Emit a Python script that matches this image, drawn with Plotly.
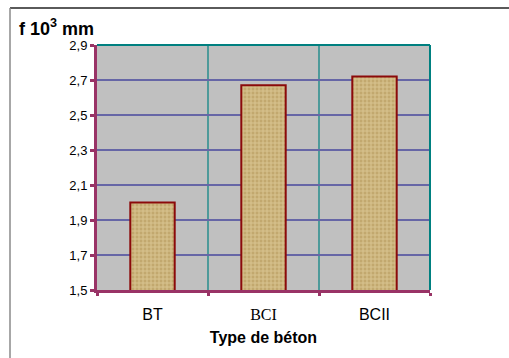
import plotly.graph_objects as go

categories = ["BT", "BCI", "BCII"]
values = [2.0, 2.67, 2.72]
tick_labels = ["BT", "<span style=\"font-family:'Liberation Serif',serif\">BCI</span>", "BCII"]
y_ticks = [1.5, 1.7, 1.9, 2.1, 2.3, 2.5, 2.7, 2.9]
boundaries = [0.5, 1.5]

W, H = 509, 358
L, R, T, B = 97, 430, 45, 290

xpos = list(range(len(categories)))

fig = go.Figure()
fig.add_trace(go.Bar(
    x=xpos, y=values, width=0.4,
    marker=dict(
        color="#c2a86e",
        line=dict(color="#8b0a0a", width=2),
        pattern=dict(shape="+", fgcolor="#efe0b2", size=4, solidity=0.45),
    ),
))

def px_x(p):
    return (p - L) / (R - L)

def px_y(p):
    return (B - p) / (B - T)

shapes = [
    dict(type="line", xref="paper", yref="paper", x0=px_x(10), x1=px_x(W + 5),
         y0=px_y(8), y1=px_y(8), line=dict(color="#5a5a5a", width=2)),
    dict(type="line", xref="paper", yref="paper", x0=px_x(10), x1=px_x(10),
         y0=px_y(8), y1=px_y(H + 5), line=dict(color="#8a8a8a", width=1.5)),
    dict(type="line", xref="paper", yref="paper", x0=0, x1=1, y0=1, y1=1,
         line=dict(color="#008080", width=2)),
    dict(type="line", xref="paper", yref="paper", x0=1, x1=1, y0=0, y1=1,
         line=dict(color="#008080", width=2)),
]
for b in boundaries:
    shapes.append(dict(type="line", xref="x", yref="paper", x0=b, x1=b, y0=0, y1=1,
                       layer="below", line=dict(color="#008080", width=1.2)))

fig.update_layout(
    width=W, height=H,
    margin=dict(l=L, r=W - R, t=T, b=H - B),
    paper_bgcolor="white",
    plot_bgcolor="#c0c0c0",
    separators=", ",
    showlegend=False,
    font=dict(family="Liberation Sans, Arial", color="black"),
    shapes=shapes,
    xaxis=dict(
        range=[-0.5, 2.5],
        tickvals=xpos, ticktext=tick_labels,
        ticks="", showgrid=False, zeroline=False,
        tickfont=dict(size=16),
        ticklabelstandoff=8,
        showline=True, linecolor="#993366", linewidth=3,
        minor=dict(tickvals=[-0.5, 0.5, 1.5, 2.5], showgrid=False,
                   ticks="outside", ticklen=3, tickcolor="#993366", tickwidth=3),
        title=dict(text="<b>Type de béton</b>", font=dict(size=16), standoff=10),
        fixedrange=True,
    ),
    yaxis=dict(
        range=[1.5, 2.9],
        tickvals=y_ticks, tickformat=".1f",
        ticks="outside", ticklen=4, tickcolor="#993366", tickwidth=3,
        tickfont=dict(size=13),
        showgrid=True, gridcolor="#6666a6", gridwidth=1.5,
        zeroline=False,
        showline=True, linecolor="#993366", linewidth=3,
    ),
    annotations=[
        dict(text="<b>f 10<sup>3</sup> mm</b>", xref="paper", yref="paper",
             x=px_x(17), y=px_y(27), xanchor="left", yanchor="middle",
             showarrow=False, font=dict(size=18)),
    ],
)

fig.write_html("out.html")
